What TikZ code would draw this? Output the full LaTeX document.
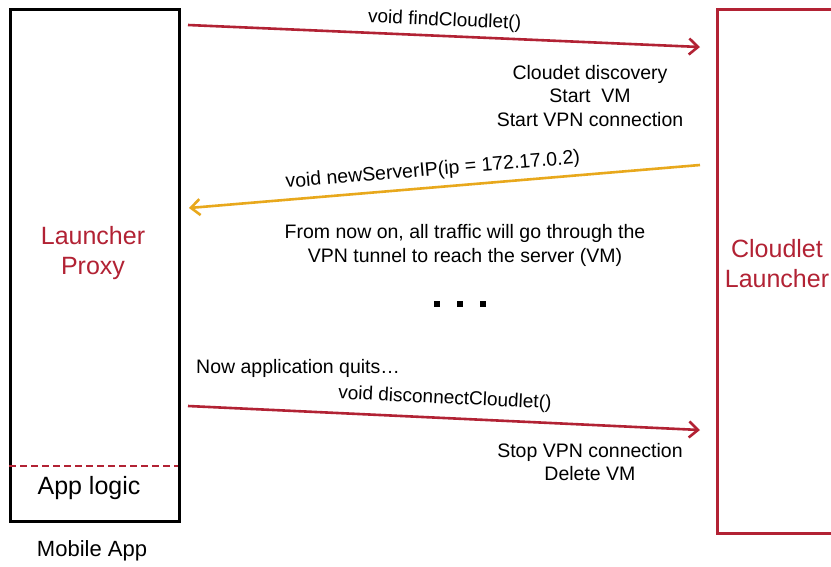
\documentclass[tikz,border=0pt]{standalone}
\usepackage{fontspec}
\setmainfont{Liberation Sans}
\usetikzlibrary{arrows.meta}
\definecolor{cred}{RGB}{178,34,52}
\definecolor{cyel}{RGB}{232,168,28}
\begin{document}
\begin{tikzpicture}[x=1pt,y=-1pt,
  txt/.style={font=\fontsize{19.5}{23.4}\selectfont, inner sep=0pt, align=center},
  big/.style={font=\fontsize{25}{30}\selectfont, inner sep=0pt, align=center, text=cred},
  lbl/.style={font=\fontsize{19}{23}\selectfont, text=black, inner sep=0pt, sloped, midway, above=5pt},
  arr/.style={line width=2.6pt, -{Straight Barb[length=9pt,width=16pt]}},
  rarr/.style={line width=2.6pt, {Straight Barb[length=9pt,width=16pt]}-},
  dotsq/.style={fill=black, minimum size=6pt, inner sep=0pt}]
\clip (0,0) rectangle (831,566);
\fill[white] (0,0) rectangle (831,566);
% boxes
\node[draw=black, line width=3pt, minimum width=169pt, minimum height=512pt, inner sep=0pt, anchor=north west] (proxy) at (9,8) {};
\node[draw=cred, line width=3pt, minimum width=200pt, minimum height=524pt, inner sep=0pt, anchor=north west] (launcher) at (716,8) {};
\coordinate (dl) at (9,466);
\coordinate (dr) at (178,466);
\draw[cred, line width=1.6pt, dash pattern=on 7pt off 4pt] (dl) -- (dr);
% box texts
\node[big] (lp) at (93,253) {Launcher\\Proxy};
\node[big] (cl) at (777,264) {Cloudlet\\Launcher};
\node[big, text=black] (al) at (89,488) {App logic};
\node[txt, font=\fontsize{22}{26}\selectfont] (ma) at (92,551) {Mobile App};
% arrows
\coordinate (f1) at (188,25);
\coordinate (f2) at (700,47);
\coordinate (n1) at (189,208);
\coordinate (n2) at (700,165);
\coordinate (d1) at (188,406);
\coordinate (d2) at (700,430);
\draw[arr, cred] (f1) -- node[lbl] (lf) {void findCloudlet()} (f2);
\draw[rarr, cyel] (n1) -- node[lbl, pos=0.48, above=1.5pt, font=\fontsize{19.5}{23}\selectfont] (ln) {void newServerIP(ip = 172.17.0.2)} (n2);
\draw[arr, cred] (d1) -- node[lbl, above=4pt] (ld) {void disconnectCloudlet()} (d2);
% other texts
\node[txt] (disc) at (590,96) {Cloudet discovery\\Start\ \ VM\\Start VPN connection};
\node[txt] (from) at (465,245.5) {From now on, all traffic will go through the\\VPN tunnel to reach the server (VM)};
\node[txt, anchor=west] (quit) at (196,368) {Now application quits…};
\node[txt] (stop) at (590,462) {Stop VPN connection\\Delete VM};
\node[dotsq] (dot1) at (437,304) {};
\node[dotsq] (dot2) at (460,304) {};
\node[dotsq] (dot3) at (483,304) {};
\end{tikzpicture}
\end{document}
